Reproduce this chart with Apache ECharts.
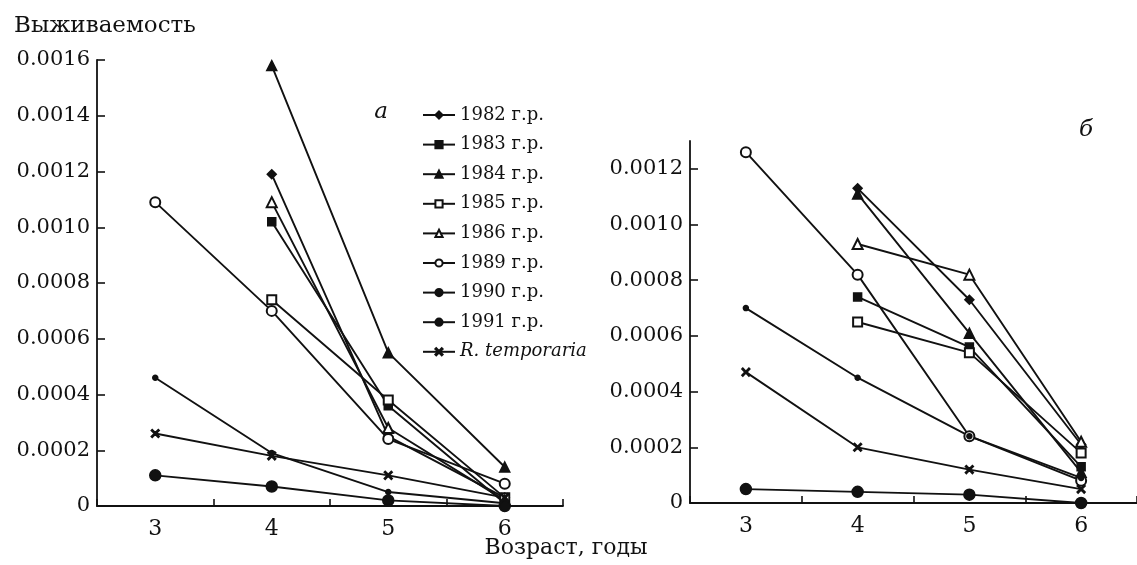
<!DOCTYPE html>
<html>
<head>
<meta charset="utf-8">
<script src="https://cdn.jsdelivr.net/npm/echarts@6/dist/echarts.min.js"></script>
<style>
  html, body { margin: 0; padding: 0; background: #ffffff; }
  #chart { width: 1137px; height: 565px; }
</style>
</head>
<body>
<div id="chart"></div>
<script>
// Age classes (years) on the horizontal axis
const ages = ['3', '4', '5', '6'];

// Cohort names (year of birth) and the common frog
const cohorts = ['1982 г.р.', '1983 г.р.', '1984 г.р.', '1985 г.р.', '1986 г.р.',
                 '1989 г.р.', '1990 г.р.', '1991 г.р.', 'R. temporaria'];

// Panel а: survival by age for each cohort
const a1982 = [null, 0.00119, 0.00025, 0.00003];
const a1983 = [null, 0.00102, 0.00036, 0.00001];
const a1984 = [null, 0.00158, 0.00055, 0.00014];
const a1985 = [null, 0.00074, 0.00038, 0.00003];
const a1986 = [null, 0.00109, 0.00028, 0.00002];
const a1989 = [0.00109, 0.00070, 0.00024, 0.00008];
const a1990 = [0.00046, 0.00019, 0.00005, 0.00001];
const a1991 = [0.00011, 0.00007, 0.00002, 0.0];
const aRtemp = [0.00026, 0.00018, 0.00011, 0.00003];

// Panel б: survival by age for each cohort
const b1982 = [null, 0.00113, 0.00073, 0.00021];
const b1983 = [null, 0.00074, 0.00056, 0.00013];
const b1984 = [null, 0.00111, 0.00061, 0.00011];
const b1985 = [null, 0.00065, 0.00054, 0.00018];
const b1986 = [null, 0.00093, 0.00082, 0.00022];
const b1989 = [0.00126, 0.00082, 0.00024, 0.00008];
const b1990 = [0.00070, 0.00045, 0.00024, 0.00009];
const b1991 = [0.00005, 0.00004, 0.00003, 0.0];
const bRtemp = [0.00047, 0.00020, 0.00012, 0.00005];

// Y tick values
const ticksA = [0, 0.0002, 0.0004, 0.0006, 0.0008, 0.0010, 0.0012, 0.0014, 0.0016];
const ticksB = [0, 0.0002, 0.0004, 0.0006, 0.0008, 0.0010, 0.0012];

const panelA = [a1982, a1983, a1984, a1985, a1986, a1989, a1990, a1991, aRtemp];
const panelB = [b1982, b1983, b1984, b1985, b1986, b1989, b1990, b1991, bRtemp];

const INK = '#111111';
const FONT = 'DejaVu Serif';
const crossPath = 'path://M0,1.2L1.2,0L5,3.8L8.8,0L10,1.2L6.2,5L10,8.8L8.8,10L5,6.2L1.2,10L0,8.8L3.8,5Z';

// Marker style for each cohort
const markers = [
  { symbol: 'diamond', size: 9 },
  { symbol: 'rect', size: 8 },
  { symbol: 'triangle', size: 10 },
  { symbol: 'emptyRect', size: 9 },
  { symbol: 'emptyTriangle', size: 10 },
  { symbol: 'emptyCircle', size: 10 },
  { symbol: 'circle', size: 5 },
  { symbol: 'circle', size: 11 },
  { symbol: crossPath, size: 8 }
];

const fmt = v => (v === 0 ? '0' : v.toFixed(4));

function makeSeries(values, idx) {
  return values.map((data, i) => ({
    name: cohorts[i],
    type: 'line',
    xAxisIndex: idx,
    yAxisIndex: idx,
    data: data,
    symbol: markers[i].symbol,
    symbolSize: markers[i].size,
    showAllSymbol: true,
    connectNulls: false,
    clip: false,
    animation: false,
    lineStyle: { color: INK, width: 1.9 },
    itemStyle: { color: INK, borderColor: INK, borderWidth: 1.5 },
    emphasis: { disabled: true }
  }));
}

function yAxis(gridIndex, max, ticks) {
  return {
    type: 'value',
    gridIndex: gridIndex,
    min: 0,
    max: max,
    interval: 0.0002,
    splitLine: { show: false },
    axisLine: { show: true, lineStyle: { color: INK, width: 1.8 } },
    axisTick: { show: true, inside: true, length: 8, customValues: ticks,
                lineStyle: { color: INK, width: 1.6 } },
    axisLabel: { color: INK, fontFamily: FONT, fontSize: 21, margin: 7,
                 customValues: ticks, formatter: fmt }
  };
}

function xAxis(gridIndex) {
  return {
    type: 'category',
    gridIndex: gridIndex,
    data: ages,
    boundaryGap: true,
    axisLine: { show: true, lineStyle: { color: INK, width: 1.8 } },
    axisTick: { show: true, inside: true, length: 7, lineStyle: { color: INK, width: 1.6 } },
    axisLabel: { color: INK, fontFamily: FONT, fontSize: 22, margin: 12 },
    splitLine: { show: false }
  };
}

const chart = echarts.init(document.getElementById('chart'), null, { renderer: 'canvas' });

chart.setOption({
  backgroundColor: '#ffffff',
  animation: false,
  grid: [
    { left: 97, top: 60, width: 466, height: 446 },
    { left: 690, top: 141, width: 450, height: 362 }
  ],
  xAxis: [xAxis(0), xAxis(1)],
  yAxis: [yAxis(0, 0.0016, ticksA), yAxis(1, 0.0013, ticksB)],
  legend: {
    show: true,
    orient: 'vertical',
    left: 417,
    top: 100,
    itemWidth: 32,
    itemHeight: 9,
    itemGap: 9.6,
    selectedMode: false,
    data: cohorts,
    formatter: n => (n.indexOf('R.') === 0 ? '{i|' + n + '}' : n),
    textStyle: {
      color: INK, fontFamily: FONT, fontSize: 18, lineHeight: 20,
      rich: { i: { fontStyle: 'italic', fontFamily: FONT, fontSize: 18, color: INK, lineHeight: 20 } }
    }
  },
  graphic: [
    { type: 'text', left: 14, top: 15,
      style: { text: 'Выживаемость', fill: INK, font: '23px "DejaVu Serif"' } },
    { type: 'text', x: 566, y: 548,
      style: { text: 'Возраст, годы', fill: INK, font: '22px "DejaVu Serif"',
               textAlign: 'center', textVerticalAlign: 'middle', verticalAlign: 'middle' } },
    { type: 'text', x: 381, y: 112,
      style: { text: 'а', fill: INK, font: 'italic 23px "DejaVu Serif"',
               textAlign: 'center', textVerticalAlign: 'middle', verticalAlign: 'middle' } },
    { type: 'text', x: 1086, y: 130,
      style: { text: 'б', fill: INK, font: 'italic 23px "DejaVu Serif"',
               textAlign: 'center', textVerticalAlign: 'middle', verticalAlign: 'middle' } }
  ],
  series: makeSeries(panelA, 0).concat(makeSeries(panelB, 1))
});
</script>
</body>
</html>
